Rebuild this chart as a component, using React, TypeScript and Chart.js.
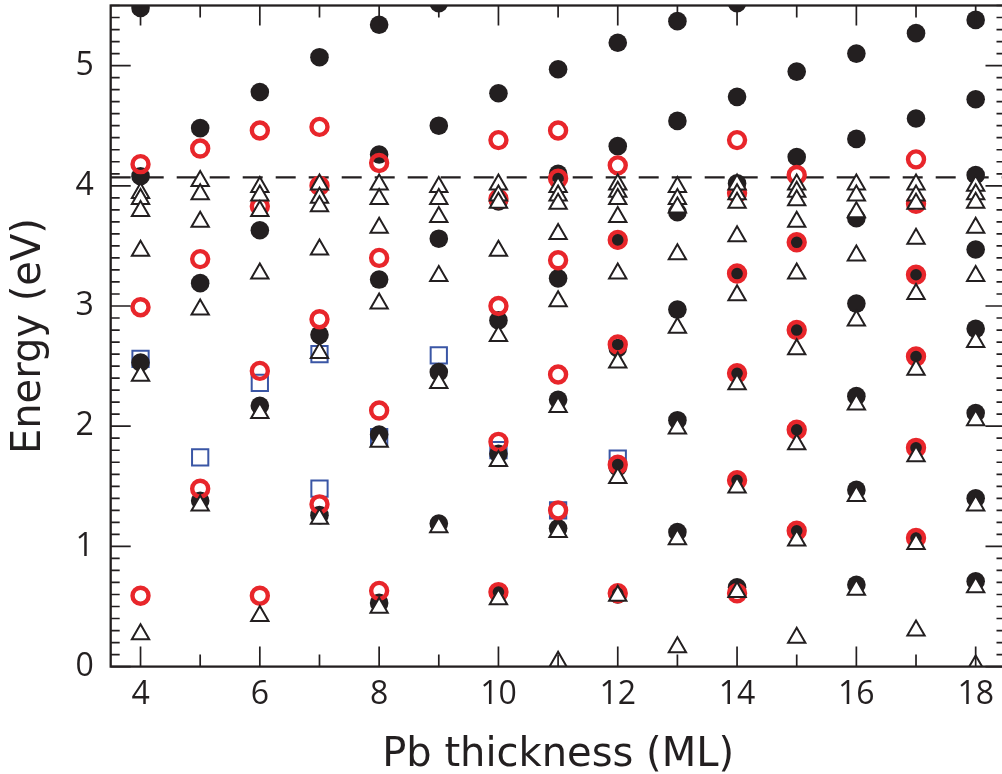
import React, { useEffect, useRef } from 'react';
import { Chart, registerables } from 'chart.js';

Chart.register(...registerables);

// Pb thickness (ML) for each column of levels
const thickness = [4, 5, 6, 7, 8, 9, 10, 11, 12, 13, 14, 15, 16, 17, 18];

// filled black circles
const filledCircleLevels: number[][] = [
  [5.48, 4.08, 2.53],
  [4.48, 3.19, 1.38],
  [4.78, 3.63, 2.17],
  [5.07, 2.76, 1.26],
  [5.34, 4.26, 3.22, 1.93, 0.53],
  [5.52, 4.5, 3.56, 2.45, 1.19],
  [4.77, 3.87, 2.88, 1.77, 0.61],
  [4.97, 4.1, 3.23, 2.22, 1.15],
  [5.19, 4.33, 3.55, 2.65, 1.66, 0.6],
  [5.37, 4.54, 3.78, 2.97, 2.05, 1.12],
  [5.52, 4.74, 4.02, 3.27, 2.44, 1.55, 0.66],
  [4.95, 4.24, 3.53, 2.8, 1.97, 1.13],
  [5.1, 4.39, 3.73, 3.02, 2.25, 1.47, 0.68],
  [5.27, 4.56, 3.26, 2.58, 1.82, 1.07],
  [5.38, 4.72, 4.09, 3.47, 2.81, 2.11, 1.4, 0.71],
];

// open red circles
const openCircleLevels: number[][] = [
  [4.18, 2.99, 0.59],
  [4.31, 3.39, 1.48],
  [4.46, 3.83, 2.46, 0.59],
  [4.49, 4.0, 2.89, 1.35],
  [4.19, 3.4, 2.13, 0.63],
  [],
  [4.38, 3.89, 3.0, 1.87, 0.62],
  [4.46, 4.06, 3.38, 2.43, 1.3],
  [4.17, 3.55, 2.68, 1.68, 0.61],
  [],
  [4.38, 3.94, 3.27, 2.44, 1.55, 0.61],
  [4.09, 3.53, 2.8, 1.97, 1.13],
  [],
  [4.22, 3.85, 3.26, 2.58, 1.82, 1.07],
  [],
];

// open triangles
const triangleLevels: number[][] = [
  [3.94, 3.89, 3.79, 3.46, 2.42, 0.27],
  [4.04, 3.93, 3.7, 2.97, 1.34],
  [3.99, 3.92, 3.79, 3.27, 2.11, 0.42],
  [4.01, 3.9, 3.83, 3.47, 2.61, 1.23],
  [4.01, 3.89, 3.65, 3.02, 1.87, 0.49],
  [3.99, 3.89, 3.74, 3.25, 2.36, 1.16],
  [4.01, 3.92, 3.86, 3.46, 2.75, 1.71, 0.56],
  [3.99, 3.92, 3.85, 3.6, 3.04, 2.16, 1.12, 0.04],
  [4.01, 3.95, 3.89, 3.74, 3.27, 2.53, 1.57, 0.59],
  [3.99, 3.89, 3.82, 3.43, 2.82, 1.98, 1.06, 0.16],
  [4.01, 3.93, 3.86, 3.58, 3.09, 2.35, 1.49, 0.62],
  [4.01, 3.95, 3.88, 3.7, 3.27, 2.64, 1.85, 1.05, 0.24],
  [4.01, 3.92, 3.78, 3.42, 2.88, 2.18, 1.42, 0.64],
  [4.01, 3.92, 3.85, 3.56, 3.1, 2.47, 1.75, 1.02, 0.3],
  [4.0, 3.93, 3.86, 3.65, 3.25, 2.7, 2.05, 1.34, 0.66, 0.01],
];

// open blue squares
const squareLevels: number[][] = [
  [2.56],
  [1.74],
  [2.36],
  [2.6, 1.48],
  [1.91],
  [2.59],
  [1.8],
  [1.3],
  [1.73],
  [], [], [], [], [], [],
];

const vacuumLevel = 4.07;
const xMin = 3.5;
const xMax = 18.5;
const yMin = 0;
const yMax = 5.5;
const xTickLabels = [4, 6, 8, 10, 12, 14, 16, 18];
const yTickLabels = [0, 1, 2, 3, 4, 5];

const INK = '#231f20';
const RED = '#e8262b';
const BLUE = '#3a56a5';
const TICK_FONT = "'Open Sans', 'DejaVu Sans', sans-serif";
const TITLE_FONT = "'DejaVu Sans', 'Open Sans', sans-serif";

function toPoints(levels: number[][]) {
  return thickness.flatMap((t, i) => (levels[i] || []).map((y) => ({ x: t, y })));
}

const framePlugin = {
  id: 'frame',
  afterDatasetsDraw(chart: any) {
    const { ctx, chartArea, scales } = chart;
    const { left, right, top, bottom } = chartArea;
    const xs = scales.x;
    const ys = scales.y;
    ctx.save();
    ctx.strokeStyle = INK;
    ctx.lineWidth = 1.7;
    ctx.beginPath();
    for (let v = Math.ceil(xMin); v <= xMax; v++) {
      const px = xs.getPixelForValue(v);
      const len = v % 2 === 0 ? 20 : 12;
      ctx.moveTo(px, bottom);
      ctx.lineTo(px, bottom - len);
      ctx.moveTo(px, top);
      ctx.lineTo(px, top + len);
    }
    for (let k = Math.ceil(yMin * 10); k <= Math.floor(yMax * 10); k++) {
      const py = ys.getPixelForValue(k / 10);
      const len = k % 10 === 0 ? 20 : 9;
      ctx.moveTo(left, py);
      ctx.lineTo(left + len, py);
      ctx.moveTo(right, py);
      ctx.lineTo(right - len, py);
    }
    ctx.stroke();
    ctx.lineWidth = 2.3;
    ctx.strokeRect(left, top, right - left, bottom - top);
    ctx.restore();
  },
};

export default function App() {
  const ref = useRef<HTMLCanvasElement | null>(null);

  useEffect(() => {
    if (!ref.current) return;
    const chart = new Chart(ref.current, {
      type: 'scatter',
      data: {
        datasets: [
          {
            label: 'triangles',
            data: toPoints(triangleLevels),
            pointStyle: 'triangle',
            pointRadius: 10,
            borderWidth: 2,
            borderColor: INK,
            backgroundColor: '#ffffff',
            clip: 0,
          },
          {
            label: 'red',
            data: toPoints(openCircleLevels),
            pointStyle: 'circle',
            pointRadius: 8,
            borderWidth: 4.4,
            borderColor: RED,
            backgroundColor: 'rgba(0,0,0,0)',
            clip: 0,
          },
          {
            label: 'black',
            data: toPoints(filledCircleLevels),
            pointStyle: 'circle',
            pointRadius: 9.3,
            borderWidth: 0,
            borderColor: INK,
            backgroundColor: INK,
            clip: 0,
          },
          {
            label: 'blue',
            data: toPoints(squareLevels),
            pointStyle: 'rect',
            pointRadius: 11.5,
            borderWidth: 2,
            borderColor: BLUE,
            backgroundColor: 'rgba(0,0,0,0)',
            clip: 0,
          },
          {
            type: 'line',
            label: 'vacuum',
            data: [
              { x: xMin, y: vacuumLevel },
              { x: xMax, y: vacuumLevel },
            ],
            borderColor: INK,
            borderWidth: 2.2,
            borderDash: [20, 13],
            pointRadius: 0,
            fill: false,
            clip: 0,
          } as any,
        ],
      },
      options: {
        animation: false,
        responsive: false,
        events: [],
        layout: { autoPadding: false, padding: { top: 5.5, right: 4.5, left: 0, bottom: 0 } },
        plugins: {
          legend: { display: false },
          tooltip: { enabled: false },
        },
        scales: {
          x: {
            type: 'linear',
            min: xMin,
            max: xMax,
            grid: { display: false, drawTicks: false },
            border: { display: false },
            afterFit: (s: any) => {
              s.height = 107.4;
              s.paddingLeft = 0;
              s.paddingRight = 0;
              s.paddingTop = 0;
              s.paddingBottom = 0;
            },
            afterBuildTicks: (s: any) => {
              s.ticks = xTickLabels.map((v) => ({ value: v }));
            },
            ticks: {
              padding: 9,
              color: INK,
              font: { family: TICK_FONT, size: 32 },
              maxRotation: 0,
              autoSkip: false,
              callback: (v: any) => String(v),
            },
            title: {
              display: true,
              text: 'Pb thickness (ML)',
              color: INK,
              font: { family: TITLE_FONT, size: 40, lineHeight: 0.9 },
              padding: { top: 0, bottom: 0 },
            },
          },
          y: {
            type: 'linear',
            min: yMin,
            max: yMax,
            grid: { display: false, drawTicks: false },
            border: { display: false },
            afterFit: (s: any) => {
              s.width = 110.7;
              s.paddingLeft = 0;
              s.paddingRight = 0;
              s.paddingTop = 0;
              s.paddingBottom = 0;
            },
            afterBuildTicks: (s: any) => {
              s.ticks = yTickLabels.map((v) => ({ value: v }));
            },
            ticks: {
              padding: 17,
              color: INK,
              font: { family: TICK_FONT, size: 32 },
              autoSkip: false,
              callback: (v: any) => String(v),
            },
            title: {
              display: true,
              text: 'Energy (eV)',
              color: INK,
              font: { family: TITLE_FONT, size: 40, lineHeight: 1.2 },
              padding: { top: 6, bottom: 0 },
            },
          },
        },
      },
      plugins: [framePlugin],
    });
    return () => chart.destroy();
  }, []);

  return (
    <div
      style={{
        position: 'fixed',
        left: 0,
        top: 0,
        width: 1002,
        height: 774,
        overflow: 'hidden',
        background: '#ffffff',
      }}
    >
      <canvas ref={ref} width={1010} height={774} style={{ display: 'block' }} />
    </div>
  );
}
